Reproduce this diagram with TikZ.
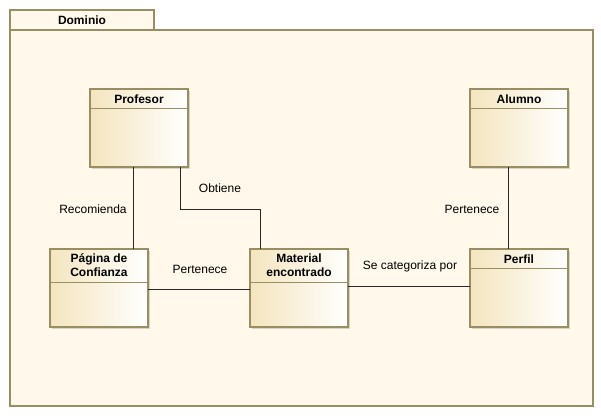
\documentclass[tikz,border=0pt]{standalone}
\usepackage{fontspec}
\setmainfont{Liberation Sans}
\definecolor{pkgfill}{RGB}{255,248,235}
\definecolor{pkgline}{RGB}{152,142,100}
\definecolor{clsleft}{RGB}{244,229,190}
\definecolor{shadowc}{RGB}{218,212,196}
\definecolor{linec}{RGB}{40,40,40}
\begin{document}
\begin{tikzpicture}[x=0.75pt,y=-0.75pt,
  pkg/.style={draw=pkgline,fill=pkgfill,line width=0.9pt},
  cls/.style={draw=pkgline,line width=0.9pt,left color=clsleft,right color=white,
    minimum width=73.5pt,minimum height=58.5pt,inner sep=0pt,outer sep=0pt,anchor=north west},
  hdr/.style={font=\bfseries\fontsize{9}{10.5}\selectfont,align=center,inner sep=0pt},
  lbl/.style={font=\fontsize{9}{10.5}\selectfont,inner sep=0pt},
  sep/.style={draw=pkgline,line width=0.75pt},
  conn/.style={draw=linec,line width=0.65pt},
  shd/.style={fill=shadowc}]
\useasboundingbox (0,0) rectangle (601,417);
% package
\draw[pkg] (10,10) rectangle (154,30);
\draw[pkg] (10,30) rectangle (593,406);
\node[hdr] (dom) at (82,20) {Dominio};
% shadows
\fill[shd] (92,91) rectangle (190,169);
\fill[shd] (472,91) rectangle (570,169);
\fill[shd] (52,251) rectangle (150,329);
\fill[shd] (252,251) rectangle (350,329);
\fill[shd] (472,251) rectangle (570,329);
% classes
\node[cls] (prof) at (90,89) {};
\node[cls] (alum) at (470,89) {};
\node[cls] (pag) at (50,249) {};
\node[cls] (mat) at (250,249) {};
\node[cls] (perf) at (470,249) {};
\draw[sep] (prof.north west) ++(0,20) -- ++(98,0);
\draw[sep] (alum.north west) ++(0,20) -- ++(98,0);
\draw[sep] (pag.north west) ++(0,34) -- ++(98,0);
\draw[sep] (mat.north west) ++(0,34) -- ++(98,0);
\draw[sep] (perf.north west) ++(0,20) -- ++(98,0);
\node[hdr] (tprof) at (139,99) {Profesor};
\node[hdr] (talum) at (519,99) {Alumno};
\node[hdr] (tpag) at (99,265.5) {Página de\\Confianza};
\node[hdr] (tmat) at (299,265.5) {Material\\encontrado};
\node[hdr] (tperf) at (519,259) {Perfil};
% connectors
\coordinate (p1) at ([xshift=32.25pt]prof.south west);
\coordinate (p2) at ([xshift=67.5pt]prof.south west);
\coordinate (a1) at ([xshift=28.5pt]alum.south west);
\draw[conn] (p1) -- (p1 |- pag.north);
\coordinate (m1) at ([xshift=7.5pt]mat.north west);
\draw[conn] (p2) -- ++(0,42) -| (m1);
\draw[conn] (a1) -- (a1 |- perf.north);
\coordinate (q1) at ([yshift=-30pt]pag.north east);
\draw[conn] (q1) -- (q1 -| mat.west);
\coordinate (q2) at ([yshift=-28.25pt]mat.north east);
\draw[conn] (q2) -- (q2 -| perf.west);
% labels
\node[lbl] (l1) at (93,209) {Recomienda};
\node[lbl] (l2) at (220,188) {Obtiene};
\node[lbl] (l3) at (472,209) {Pertenece};
\node[lbl] (l4) at (200,269) {Pertenece};
\node[lbl] (l5) at (410,266) {Se categoriza por};
\end{tikzpicture}
\end{document}
